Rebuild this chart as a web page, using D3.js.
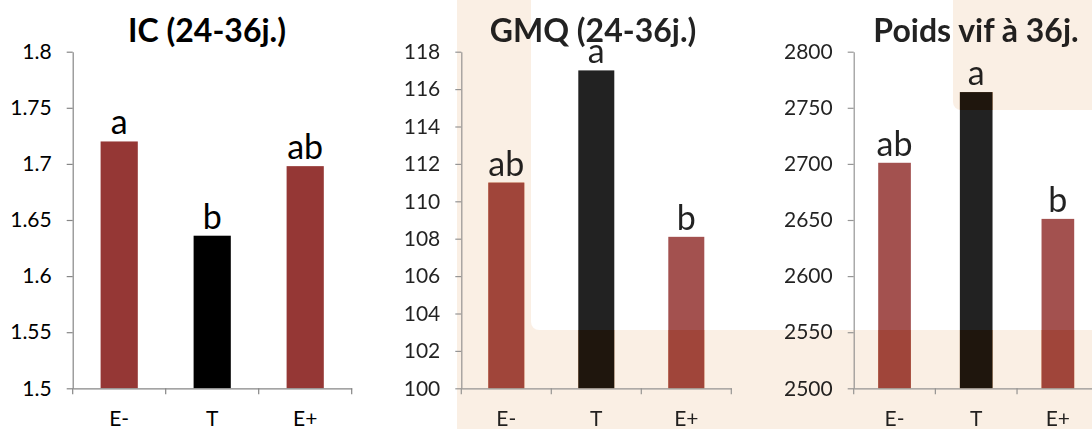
<!DOCTYPE html>
<html lang="fr">
<head>
<meta charset="UTF-8">
<title>IC, GMQ et poids vif</title>
<script src="https://d3js.org/d3.v7.min.js"></script>
<style>
  body { margin: 0; background: #fff; overflow: hidden; }
  svg text { font-family: Lato, "Open Sans", sans-serif; }
</style>
</head>
<body>
<svg id="chart" width="1092" height="429"></svg>
<script>
// data
const categories = ["E-", "T", "E+"];
const barColors = ["#953735", "#000000", "#953735"];
const titles = ["IC (24-36j.)", "GMQ (24-36j.)", "Poids vif à 36j."];

const icValues = [1.720, 1.636, 1.698];
const icLetters = ["a", "b", "ab"];
const icTicks = [1.5, 1.55, 1.6, 1.65, 1.7, 1.75, 1.8];

const gmqValues = [111.0, 117.0, 108.1];
const gmqLetters = ["ab", "a", "b"];
const gmqTicks = [100, 102, 104, 106, 108, 110, 112, 114, 116, 118];

const poidsValues = [2701, 2764, 2651];
const poidsLetters = ["ab", "a", "b"];
const poidsTicks = [2500, 2550, 2600, 2650, 2700, 2750, 2800];

const W = 1092, H = 429;
const plotTop = 51.7, plotBottom = 388.3;
const axisColor = "#868686";
const tan = "#e7a264";

const panels = [
  { title: titles[0], values: icValues, letters: icLetters, ticks: icTicks, x0: 72.7, x1: 351.7, tx: 207, faded: false },
  { title: titles[1], values: gmqValues, letters: gmqLetters, ticks: gmqTicks, x0: 461.3, x1: 731.3, tx: 593, faded: true },
  { title: titles[2], values: poidsValues, letters: poidsLetters, ticks: poidsTicks, x0: 853.7, x1: 1098.7, tx: 976, faded: true }
];

panels.forEach(p => {
  p.x = d3.scaleBand().domain(categories).range([p.x0, p.x1]).paddingInner(0.6).paddingOuter(0.3);
  p.y = d3.scaleLinear().domain(d3.extent(p.ticks)).range([plotBottom, plotTop]);
});

const svg = d3.select("#chart");
const defs = svg.append("defs");

// slide background shapes
svg.append("rect").attr("width", W).attr("height", H).attr("fill", "#fff");
svg.append("rect").attr("x", 457).attr("y", 0).attr("width", W - 457).attr("height", H).attr("fill", tan);
svg.append("rect").attr("x", 531).attr("y", -20).attr("width", W).attr("height", 350).attr("rx", 8).attr("fill", "#fff");
svg.append("rect").attr("x", 953).attr("y", -20).attr("width", 200).attr("height", 130).attr("rx", 8).attr("fill", tan);

// light veil over the background, with holes where the faded bars go
const mask = defs.append("mask").attr("id", "holes")
  .attr("maskUnits", "userSpaceOnUse")
  .attr("x", 0).attr("y", 0).attr("width", W).attr("height", H);
mask.append("rect").attr("width", W).attr("height", H).attr("fill", "#fff");
panels.filter(p => p.faded).forEach(p => {
  mask.selectAll(null).data(p.values).enter().append("rect")
    .attr("x", (d, i) => p.x(categories[i]))
    .attr("y", d => p.y(d))
    .attr("width", p.x.bandwidth())
    .attr("height", d => plotBottom - p.y(d))
    .attr("fill", "#000");
});
svg.append("rect").attr("width", W).attr("height", H)
  .attr("fill", "#fff").attr("opacity", 0.83).attr("mask", "url(#holes)");

panels.forEach(p => {
  const g = svg.append("g").attr("opacity", p.faded ? 0.87 : 1);

  // bars
  g.selectAll(".bar").data(p.values).enter().append("rect")
    .attr("class", "bar")
    .attr("x", (d, i) => p.x(categories[i]))
    .attr("y", d => p.y(d))
    .attr("width", p.x.bandwidth())
    .attr("height", d => plotBottom - p.y(d))
    .attr("fill", (d, i) => barColors[i]);

  // y axis
  const ya = g.append("g")
    .attr("transform", `translate(${p.x0},0)`)
    .call(d3.axisLeft(p.y).tickValues(p.ticks).tickFormat(d => String(d))
      .tickSize(6).tickSizeOuter(0).tickPadding(15));
  ya.attr("font-family", null).attr("font-size", null);
  ya.selectAll("path, line").attr("stroke", axisColor).attr("stroke-width", 1.2);
  ya.selectAll("text").attr("fill", "#000").style("font-size", "21px");

  // x axis
  const xa = g.append("g")
    .attr("transform", `translate(0,${plotBottom})`)
    .call(d3.axisBottom(p.x).tickSize(0).tickSizeOuter(0).tickPadding(23));
  xa.attr("font-family", null).attr("font-size", null);
  xa.select(".domain").attr("stroke", axisColor).attr("stroke-width", 1.2);
  xa.selectAll("text").attr("fill", "#000").style("font-size", "21px");
  xa.selectAll(".bound").data(d3.range(categories.length + 1)).enter().append("line")
    .attr("class", "bound")
    .attr("x1", i => p.x.range()[0] + i * p.x.step())
    .attr("x2", i => p.x.range()[0] + i * p.x.step())
    .attr("y1", 0).attr("y2", 6)
    .attr("stroke", axisColor).attr("stroke-width", 1.2);

  // significance letters
  g.selectAll(".letter").data(p.values).enter().append("text")
    .attr("class", "letter")
    .attr("x", (d, i) => p.x(categories[i]) + p.x.bandwidth() / 2)
    .attr("y", d => p.y(d) - 7)
    .attr("text-anchor", "middle")
    .style("font-size", "34px")
    .attr("fill", "#000")
    .text((d, i) => p.letters[i]);

  // title
  g.append("text")
    .attr("x", p.tx).attr("y", 42)
    .attr("text-anchor", "middle")
    .style("font-size", "32px").style("font-weight", "bold")
    .attr("fill", "#000")
    .text(p.title);
});
</script>
</body>
</html>
